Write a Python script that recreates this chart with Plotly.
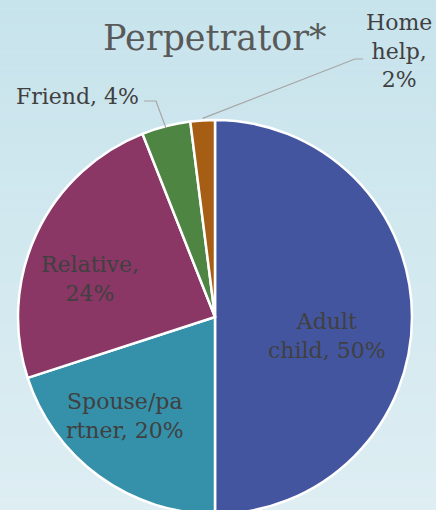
import math
import plotly.graph_objects as go

labels = ["Adult child", "Spouse/partner", "Relative", "Friend", "Home help"]
values = [50, 20, 24, 4, 2]
label_texts = ["Adult<br>child, 50%", "Spouse/pa<br>rtner, 20%", "Relative,<br>24%", "Friend, 4%", "Home<br>help,<br>2%"]
colors = ["#4455A0", "#3590AA", "#8A3766", "#4E8542", "#A65E15"]
title_text = "Perpetrator*"

W, H = 436, 514
CX, CY, R = 215, 317, 197
FONT = "DejaVu Serif"
TXT = "#404040"

fig = go.Figure()
fig.add_trace(go.Pie(
    labels=labels, values=values, sort=False, direction="clockwise", rotation=0,
    marker=dict(colors=colors, line=dict(color="white", width=2.5)),
    textinfo="none", hoverinfo="label+percent", showlegend=False,
    domain=dict(x=[(CX - R) / W, (CX + R) / W], y=[max(0, (H - CY - R) / H), (H - CY + R) / H]),
))

def px(x):
    return x / W

def py(y):
    return 1 - y / H

# gradient background bands
shapes = []
top = (199, 227, 236)
bot = (222, 238, 243)
n = 60
for i in range(n):
    t = i / (n - 1)
    c = tuple(round(top[k] + (bot[k] - top[k]) * t) for k in range(3))
    shapes.append(dict(type="rect", xref="paper", yref="paper", layer="below",
                       x0=0, x1=1, y0=1 - (i + 1) / n, y1=1 - i / n,
                       fillcolor="rgb(%d,%d,%d)" % c, line=dict(width=0)))

# slice midpoints on the rim computed from the data
total = sum(values)
cum = 0
mids = []
for v in values:
    a = (cum + v / 2) / total * 2 * math.pi
    mids.append((CX + R * math.sin(a), CY - R * math.cos(a)))
    cum += v

# leader lines for outside labels
fx, fy = mids[3]
shapes.append(dict(type="path", xref="paper", yref="paper",
                   path="M %f,%f L %f,%f L %f,%f" % (px(144), py(101), px(156), py(101), px(fx), py(fy + 2)),
                   line=dict(color="#A6A6A6", width=1.2)))
hx, hy = mids[4]
shapes.append(dict(type="path", xref="paper", yref="paper",
                   path="M %f,%f L %f,%f L %f,%f" % (px(hx), py(hy - 2), px(355), py(59), px(363), py(59)),
                   line=dict(color="#A6A6A6", width=1.2)))

LS = 22
annotations = [
    dict(text=title_text, x=px(215), y=py(38), xref="paper", yref="paper", showarrow=False,
         font=dict(family=FONT, size=35, color="#595959"), xanchor="center", yanchor="middle"),
    dict(text=label_texts[0], x=px(327), y=py(336), xref="paper", yref="paper", showarrow=False,
         font=dict(family=FONT, size=LS, color=TXT), xanchor="center", yanchor="middle"),
    dict(text=label_texts[1], x=px(125), y=py(416), xref="paper", yref="paper", showarrow=False,
         font=dict(family=FONT, size=LS, color=TXT), xanchor="center", yanchor="middle"),
    dict(text=label_texts[2], x=px(90), y=py(279), xref="paper", yref="paper", showarrow=False,
         font=dict(family=FONT, size=LS, color=TXT), xanchor="center", yanchor="middle"),
    dict(text=label_texts[3], x=px(141), y=py(96), xref="paper", yref="paper", showarrow=False,
         font=dict(family=FONT, size=LS, color=TXT), xanchor="right", yanchor="middle"),
    dict(text=label_texts[4], x=px(399), y=py(51), xref="paper", yref="paper", showarrow=False,
         font=dict(family=FONT, size=LS, color=TXT), xanchor="center", yanchor="middle"),
]

fig.update_layout(
    width=W, height=H, margin=dict(l=0, r=0, t=0, b=0),
    paper_bgcolor="#d3e8ef", plot_bgcolor="rgba(0,0,0,0)",
    shapes=shapes, annotations=annotations,
)
fig.write_html("out.html", config={"displayModeBar": False},
               post_script="document.body.style.margin='0';document.body.style.overflow='hidden';")
